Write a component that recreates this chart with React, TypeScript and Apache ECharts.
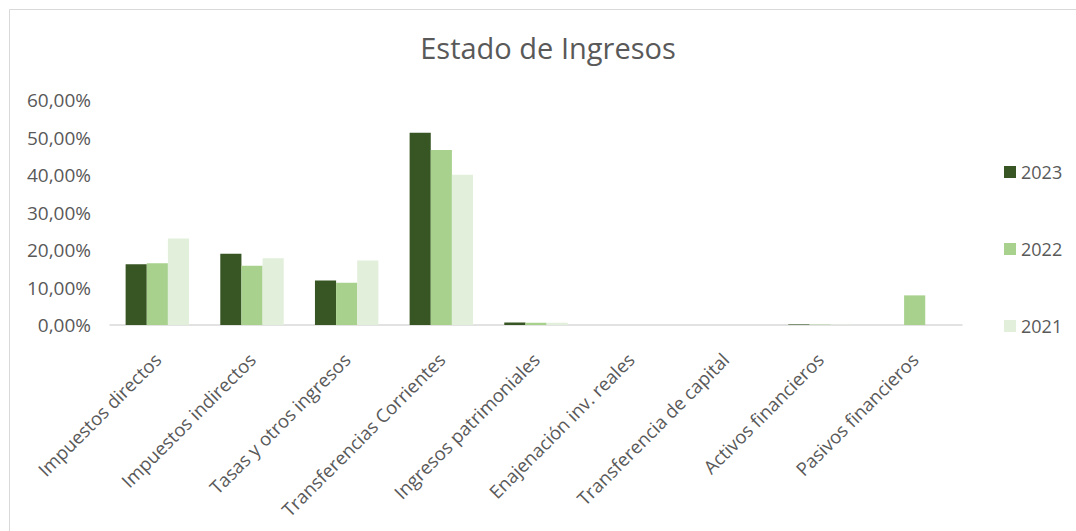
import React, { useEffect, useRef } from "react";
import * as echarts from "echarts";

const categories = [
  "Impuestos directos",
  "Impuestos indirectos",
  "Tasas y otros ingresos",
  "Transferencias Corrientes",
  "Ingresos patrimoniales",
  "Enajenación inv. reales",
  "Transferencia de capital",
  "Activos financieros",
  "Pasivos financieros",
];
const v2023 = [16.2, 19.0, 11.9, 51.3, 0.7, 0, 0, 0.15, 0];
const v2022 = [16.5, 15.8, 11.3, 46.7, 0.6, 0, 0, 0.1, 7.9];
const v2021 = [23.1, 17.8, 17.2, 40.1, 0.6, 0, 0, 0.1, 0];
const seriesNames = ["2023", "2022", "2021"];
const colors = ["#375623", "#a9d18e", "#e2efda"];

const FONT = "'Open Sans', sans-serif";
const TXT = "#595959";

export default function App() {
  const ref = useRef<HTMLDivElement>(null);
  useEffect(() => {
    if (!ref.current) return;
    const chart = echarts.init(ref.current, null, { renderer: "svg" });
    const data = [v2023, v2022, v2021];
    chart.setOption({
      animation: false,
      backgroundColor: "#ffffff",
      textStyle: { fontFamily: FONT },
      title: {
        text: "Estado de Ingresos",
        left: 543,
        textAlign: "center",
        top: 28,
        textStyle: { fontFamily: FONT, fontSize: 29, fontWeight: "normal", color: TXT },
      },
      graphic: [
        {
          type: "rect",
          shape: { x: 9.5, y: 9.5, width: 1200, height: 700 },
          style: { fill: "none", stroke: "#d9d9d9", lineWidth: 1 },
          silent: true,
          z: -1,
        },
      ],
      legend: {
        orient: "vertical",
        left: 999,
        top: 156,
        itemWidth: 12,
        itemHeight: 12,
        itemGap: 55,
        icon: "rect",
        textStyle: { fontFamily: FONT, fontSize: 18, color: TXT, lineHeight: 22 },
        data: seriesNames,
      },
      grid: { left: 110, right: 114, top: 100, bottom: 206, containLabel: false },
      xAxis: {
        type: "category",
        data: categories,
        axisLine: { lineStyle: { color: "#d9d9d9", width: 1.5 } },
        axisTick: { show: false },
        axisLabel: {
          rotate: 45,
          interval: 0,
          fontFamily: FONT,
          fontSize: 18.5,
          color: TXT,
          margin: 31,
        },
      },
      yAxis: {
        type: "value",
        min: 0,
        max: 60,
        interval: 10,
        splitLine: { show: false },
        axisLine: { show: false },
        axisTick: { show: false },
        axisLabel: {
          fontFamily: FONT,
          fontSize: 19,
          color: TXT,
          margin: 19,
          formatter: (v: number) => v.toFixed(2).replace(".", ",") + "%",
        },
      },
      series: seriesNames.map((name, i) => ({
        name,
        type: "bar",
        data: data[i],
        barGap: "0%",
        barCategoryGap: "33%",
        itemStyle: { color: colors[i] },
      })),
    });
    return () => chart.dispose();
  }, []);
  return (
    <div
      ref={ref}
      style={{ position: "fixed", left: 0, top: 0, width: 1076, height: 531 }}
    />
  );
}
